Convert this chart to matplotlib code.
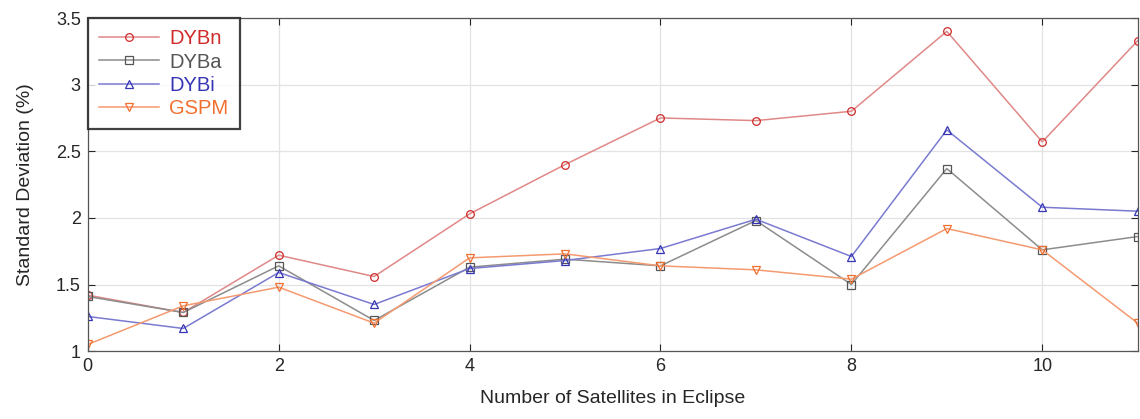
import matplotlib
matplotlib.use("Agg")
import matplotlib.pyplot as plt

plt.rcParams['font.family'] = ['Liberation Sans', 'DejaVu Sans']

# Number of satellites in eclipse
n_sats = list(range(12))

dybn = [1.42, 1.29, 1.72, 1.56, 2.03, 2.40, 2.75, 2.73, 2.80, 3.40, 2.57, 3.33]
dyba = [1.41, 1.29, 1.64, 1.23, 1.63, 1.69, 1.64, 1.98, 1.50, 2.37, 1.76, 1.86]
dybi = [1.26, 1.17, 1.59, 1.35, 1.62, 1.68, 1.77, 1.99, 1.71, 2.66, 2.08, 2.05]
gspm = [1.05, 1.34, 1.48, 1.21, 1.70, 1.73, 1.64, 1.61, 1.54, 1.92, 1.76, 1.21]

series = [
    ("DYBn", dybn, 'o', '#e08888', '#d02a2a'),
    ("DYBa", dyba, 's', '#8c8c8c', '#555555'),
    ("DYBi", dybi, '^', '#7a7ad0', '#3535b5'),
    ("GSPM", gspm, 'v', '#f59a70', '#f07030'),
]

fig = plt.figure(figsize=(11.4, 4.19), dpi=100)
ax = fig.add_axes([0.077, 0.162, 0.921, 0.795])

for name, vals, marker, lc, tc in series:
    ax.plot(n_sats, vals, color=lc, lw=1.1, marker=marker, markersize=5.5,
            markerfacecolor='none', markeredgecolor=tc, markeredgewidth=0.9,
            label=name)

ax.set_xlim(0, 11)
ax.set_ylim(1, 3.5)
ax.set_xticks(range(0, 12, 2))
ax.set_yticks([1, 1.5, 2, 2.5, 3, 3.5])
ax.set_yticklabels(['1', '1.5', '2', '2.5', '3', '3.5'])
ax.grid(True, color='#e3e3e3', lw=0.9)
ax.set_axisbelow(True)
ax.tick_params(direction='in', top=True, right=True, labelsize=13,
               colors='#262626', length=5, pad=5)
for sp in ax.spines.values():
    sp.set_color('#555555')
    sp.set_linewidth(0.9)

ax.set_xlabel("Number of Satellites in Eclipse", fontsize=14, color='#262626',
              labelpad=11)
ax.set_ylabel("Standard Deviation (%)", fontsize=14, color='#262626',
              labelpad=16)

leg = ax.legend(loc='upper left', fontsize=14.5, frameon=True, fancybox=False,
                borderaxespad=0.0, handlelength=3.0, handletextpad=0.5,
                labelspacing=0.22, borderpad=0.55)
leg.get_frame().set_edgecolor('#111111')
leg.get_frame().set_linewidth(1.6)
for txt, s in zip(leg.get_texts(), series):
    txt.set_color(s[4])

fig.savefig("out.png", dpi=100)
